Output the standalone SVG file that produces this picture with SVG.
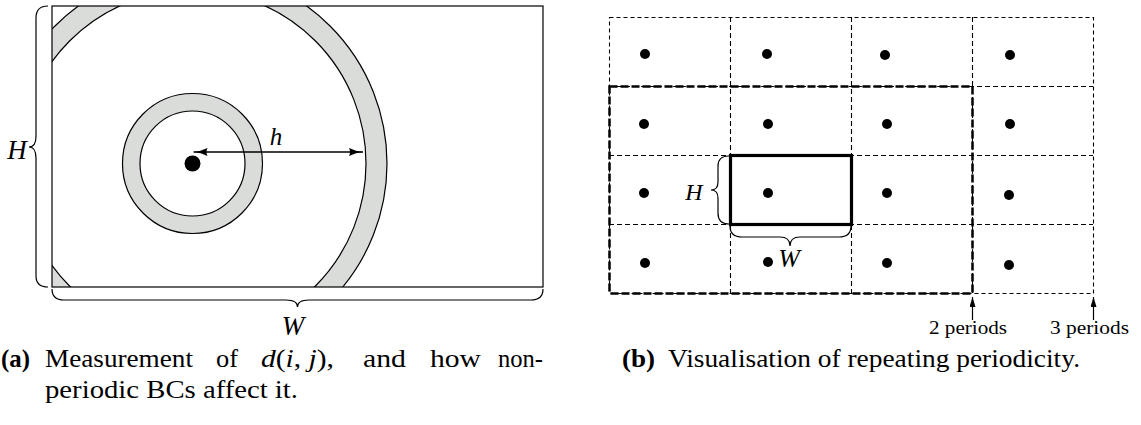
<svg xmlns="http://www.w3.org/2000/svg" width="1141" height="425" viewBox="0 0 1141 425">
<style>
.ln{fill:none;stroke:#000;stroke-width:1.2}
.ring{fill:#d9dcd9;fill-rule:evenodd;stroke:#000;stroke-width:1.2}
.dot{fill:#000}
.thin{fill:none;stroke:#000;stroke-width:1.1;stroke-dasharray:4 3}
.grid{fill:none;stroke:#000;stroke-width:1.1;stroke-dasharray:5 3}
.thick{fill:none;stroke:#000;stroke-width:2.5;stroke-dasharray:8 3}
.box{fill:none;stroke:#000;stroke-width:3.2}
.arr{fill:none;stroke:#000;stroke-width:1.5}
.t{fill:#000}
.it{font-style:italic}
.b{font-weight:bold}
</style>
<defs>
<clipPath id="clipA"><rect x="52" y="6" width="491" height="281"/></clipPath>
<marker id="ah" viewBox="0 0 14 8" refX="14" refY="4" markerWidth="14" markerHeight="8" markerUnits="userSpaceOnUse" orient="auto-start-reverse">
<path d="M0,0 Q7,3.4 14,4 Q7,4.6 0,8 Q2,4 0,0 z" fill="#000"/>
</marker>
<marker id="ah2" viewBox="0 0 10 6" refX="10" refY="3" markerWidth="10" markerHeight="6" markerUnits="userSpaceOnUse" orient="auto">
<path d="M0,0 L10,3 L0,6 z" fill="#000"/>
</marker>
</defs>

<g id="panel-a" font-family="'Liberation Serif','Times New Roman',serif">
  <g id="domain-a">
    <g clip-path="url(#clipA)">
      <path id="outer-ring" class="ring" d="M192.5,163.5 m-194.5,0 a194.5,194.5 0 1,0 389,0 a194.5,194.5 0 1,0 -389,0 z M192.5,163.5 m-173.5,0 a173.5,173.5 0 1,0 347,0 a173.5,173.5 0 1,0 -347,0 z"/>
    </g>
    <rect class="ln" x="52" y="6" width="491" height="281"/>
  </g>
  <g id="inner-ring">
    <path class="ring" d="M192.5,163.5 m-70,0 a70,70 0 1,0 140,0 a70,70 0 1,0 -140,0 z M192.5,163.5 m-52.5,0 a52.5,52.5 0 1,0 105,0 a52.5,52.5 0 1,0 -105,0 z"/>
  </g>
  <g id="point-a"><circle class="dot" cx="192.5" cy="163.5" r="8"/></g>
  <g id="brace-H-a">
    <path class="ln" d="M48,6 Q36,6 36,18 L36,136 Q36,147 29,147 Q36,147 36,158 L36,276 Q36,287 48,287"/>
    <text class="t it" x="17" y="159" font-size="27" text-anchor="middle">H</text>
  </g>
  <g id="brace-W-a">
    <path class="ln" d="M52,289 Q52,300 64,300 L286,300 Q297.5,300 297.5,307 Q297.5,300 309,300 L531,300 Q543,300 543,289"/>
    <text class="t it" x="293" y="335" font-size="27" text-anchor="middle">W</text>
  </g>
  <text class="t it" x="276" y="145" font-size="25" text-anchor="middle">h</text>
</g>

<g id="panel-b" font-family="'Liberation Serif','Times New Roman',serif">
  <g id="grid-b">
    <rect class="thin" x="609.5" y="17.5" width="484" height="276"/>
    <path class="grid" d="M730.5,17 V293 M851.5,17 V293 M972.5,17 V293 M609,86.5 H1093 M609,155.5 H1093 M609,224.5 H1093"/>
    <rect class="thick" x="609.5" y="86.5" width="363" height="207"/>
    <rect class="box" x="730.5" y="155.5" width="121" height="69"/>
  </g>
  <g id="points-b">
    <circle class="dot" cx="645" cy="54" r="5"/>
    <circle class="dot" cx="767" cy="54" r="5"/>
    <circle class="dot" cx="885" cy="55" r="5"/>
    <circle class="dot" cx="1010" cy="55" r="5"/>
    <circle class="dot" cx="644" cy="124" r="5"/>
    <circle class="dot" cx="768" cy="124" r="5"/>
    <circle class="dot" cx="887" cy="124" r="5"/>
    <circle class="dot" cx="1010" cy="124" r="5"/>
    <circle class="dot" cx="644" cy="193" r="5"/>
    <circle class="dot" cx="768" cy="193" r="5"/>
    <circle class="dot" cx="887" cy="193" r="5"/>
    <circle class="dot" cx="1009" cy="195" r="5"/>
    <circle class="dot" cx="645" cy="263" r="5"/>
    <circle class="dot" cx="768" cy="262" r="5"/>
    <circle class="dot" cx="887" cy="263" r="5"/>
    <circle class="dot" cx="1009" cy="265" r="5"/>
  </g>
  <g id="brace-H-b">
    <path class="ln" d="M729,156 Q718,156 718,166 L718,182 Q718,190 711,190 Q718,190 718,198 L718,213 Q718,224 729,224"/>
    <text class="t it" x="694" y="200" font-size="24" text-anchor="middle">H</text>
  </g>
  <g id="brace-W-b">
    <path class="ln" d="M730,226 Q730,237 742,237 L780,237 Q790,237 790,246 Q790,237 800,237 L839,237 Q851,237 851,226"/>
    <text class="t it" x="789" y="267" font-size="26" text-anchor="middle">W</text>
  </g>
  <g id="label-2p"><text class="t" x="929" y="334" font-size="19" textLength="78" lengthAdjust="spacingAndGlyphs">2 periods</text></g>
  <g id="label-3p"><text class="t" x="1050" y="334" font-size="19" textLength="79" lengthAdjust="spacingAndGlyphs">3 periods</text></g>
</g>

<g id="connectors">
  <line class="arr" x1="193.5" y1="152" x2="363" y2="152" marker-start="url(#ah)" marker-end="url(#ah)"/>
  <line class="ln" x1="972.5" y1="320" x2="972.5" y2="297" marker-end="url(#ah2)"/>
  <line class="ln" x1="1093.5" y1="320" x2="1093.5" y2="297" marker-end="url(#ah2)"/>
</g>

<g id="captions" font-family="'Liberation Serif','Times New Roman',serif" font-size="26">
  <text class="t b" x="1" y="367" textLength="29" lengthAdjust="spacingAndGlyphs">(a)</text>
  <text class="t" x="45" y="367" textLength="148" lengthAdjust="spacingAndGlyphs">Measurement</text>
  <text class="t" x="216" y="367" textLength="22" lengthAdjust="spacingAndGlyphs">of</text>
  <text class="t" x="261" y="367" textLength="73" lengthAdjust="spacingAndGlyphs"><tspan class="it">d</tspan>(<tspan class="it">i</tspan>, <tspan class="it">j</tspan>),</text>
  <text class="t" x="363" y="367" textLength="43" lengthAdjust="spacingAndGlyphs">and</text>
  <text class="t" x="430" y="367" textLength="51" lengthAdjust="spacingAndGlyphs">how</text>
  <text class="t" x="498" y="367" textLength="45" lengthAdjust="spacingAndGlyphs">non-</text>
  <text class="t" x="45" y="398" textLength="253" lengthAdjust="spacingAndGlyphs">periodic BCs affect it.</text>
  <text class="t b" x="622" y="367" textLength="33" lengthAdjust="spacingAndGlyphs">(b)</text>
  <text class="t" x="668" y="367" textLength="412" lengthAdjust="spacingAndGlyphs">Visualisation of repeating periodicity.</text>
</g>
</svg>
